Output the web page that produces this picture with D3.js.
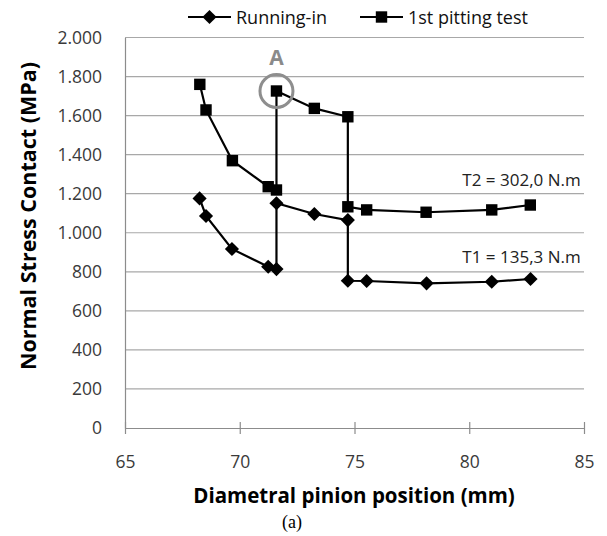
<!DOCTYPE html>
<html>
<head>
<meta charset="utf-8">
<script src="https://cdn.jsdelivr.net/npm/d3@7"></script>
<style>
  body { margin: 0; background: #fff; }
  svg { display: block; }
</style>
</head>
<body>
<div id="chart"></div>
<script>
// pinion position (mm) and contact stress (MPa)
const runX = [68.25, 68.53, 69.66, 71.24, 71.6, 71.6, 73.25, 74.71, 74.71, 75.53, 78.14, 80.98, 82.67];
const runY = [1176, 1086, 917, 826, 814, 1151, 1096, 1065, 754, 753, 741, 749, 763];
const pitX = [68.26, 68.53, 69.68, 71.24, 71.6, 71.6, 73.25, 74.71, 74.71, 75.53, 78.12, 80.98, 82.66];
const pitY = [1760, 1629, 1369, 1236, 1219, 1726, 1637, 1594, 1133, 1117, 1105, 1117, 1142];

const seriesNames = ["Running-in", "1st pitting test"];
const xTicks = [65, 70, 75, 80, 85];
const yTicks = [0, 200, 400, 600, 800, 1000, 1200, 1400, 1600, 1800, 2000];
const yTickLabels = ["0", "200", "400", "600", "800", "1.000", "1.200", "1.400", "1.600", "1.800", "2.000"];

const width = 607, height = 536;
const margin = { left: 125, right: 23, top: 37.5, bottom: 108 };

const svg = d3.select("#chart").append("svg")
    .attr("width", width)
    .attr("height", height);

const x = d3.scaleLinear()
    .domain([65, 85])
    .range([margin.left, width - margin.right]);
const y = d3.scaleLinear()
    .domain([0, 2000])
    .range([height - margin.bottom, margin.top]);

const font = "'Open Sans', sans-serif";

// gridlines
svg.append("g")
    .selectAll("line")
    .data(yTicks.filter(d => d > 0))
    .join("line")
    .attr("x1", x(65)).attr("x2", x(85))
    .attr("y1", d => y(d)).attr("y2", d => y(d))
    .attr("stroke", "#a8a8a8")
    .attr("stroke-width", 1.2);

// y axis (line only, labels on the left)
const yAxis = svg.append("g")
    .attr("transform", `translate(${x(65)},0)`)
    .call(d3.axisLeft(y).tickValues(yTicks).tickSize(0).tickPadding(23)
        .tickFormat((d, i) => yTickLabels[i]));
yAxis.select(".domain").attr("stroke", "#8c8c8c").attr("stroke-width", 1.2);
yAxis.selectAll("text")
    .attr("font-family", font)
    .attr("font-size", 17.5)
    .attr("fill", "#3a3a3a");

// x axis with cross tick marks
const xAxis = svg.append("g")
    .attr("transform", `translate(0,${y(0)})`)
    .call(d3.axisBottom(x).tickValues(xTicks).tickSize(6).tickPadding(22).tickSizeOuter(0));
xAxis.select(".domain").attr("stroke", "#8c8c8c").attr("stroke-width", 1.2);
xAxis.selectAll(".tick line")
    .attr("y1", -6)
    .attr("stroke", "#8c8c8c")
    .attr("stroke-width", 1.2);
xAxis.selectAll("text")
    .attr("font-family", font)
    .attr("font-size", 17.5)
    .attr("fill", "#3a3a3a");

// series
const line = d3.line()
    .x(d => x(d[0]))
    .y(d => y(d[1]));

const runData = runX.map((v, i) => [v, runY[i]]);
const pitData = pitX.map((v, i) => [v, pitY[i]]);

[runData, pitData].forEach(ser => {
    svg.append("path")
        .datum(ser)
        .attr("fill", "none")
        .attr("stroke", "#000")
        .attr("stroke-width", 2.2)
        .attr("d", line);
});

const diamond = d3.symbol(d3.symbolSquare, 100);
const square = d3.symbol(d3.symbolSquare, 130);

svg.append("g")
    .selectAll("path")
    .data(runData)
    .join("path")
    .attr("d", diamond)
    .attr("transform", d => `translate(${x(d[0])},${y(d[1])}) rotate(45)`)
    .attr("fill", "#000");

svg.append("g")
    .selectAll("path")
    .data(pitData)
    .join("path")
    .attr("d", square)
    .attr("transform", d => `translate(${x(d[0])},${y(d[1])})`)
    .attr("fill", "#000");

// point A highlight
const ax = x(pitX[5]), ay = y(pitY[5]);
svg.append("circle")
    .attr("cx", ax)
    .attr("cy", ay)
    .attr("r", 16.5)
    .attr("fill", "none")
    .attr("stroke", "#8e8e8e")
    .attr("stroke-width", 3);
svg.append("text")
    .attr("x", ax)
    .attr("y", ay - 26)
    .attr("text-anchor", "middle")
    .attr("font-family", font)
    .attr("font-weight", 700)
    .attr("font-size", 21)
    .attr("fill", "#8a8a8a")
    .text("A");

// torque labels
svg.append("text")
    .attr("x", x(79.7))
    .attr("y", y(1239))
    .attr("font-family", font)
    .attr("font-size", 17)
    .attr("fill", "#222")
    .text("T2 = 302,0 N.m");
svg.append("text")
    .attr("x", x(79.7))
    .attr("y", y(845))
    .attr("font-family", font)
    .attr("font-size", 17)
    .attr("fill", "#222")
    .text("T1 = 135,3 N.m");

// legend
const legend = svg.append("g");
const legendItems = [
    { name: seriesNames[0], x0: 188, sym: diamond, rot: 45 },
    { name: seriesNames[1], x0: 360, sym: square, rot: 0 }
];
legendItems.forEach(it => {
    legend.append("line")
        .attr("x1", it.x0).attr("x2", it.x0 + 43)
        .attr("y1", 17).attr("y2", 17)
        .attr("stroke", "#000")
        .attr("stroke-width", 2.2);
    legend.append("path")
        .attr("d", it.sym)
        .attr("transform", `translate(${it.x0 + 21.5},17) rotate(${it.rot})`)
        .attr("fill", "#000");
    legend.append("text")
        .attr("x", it.x0 + 48)
        .attr("y", 24)
        .attr("font-family", font)
        .attr("font-size", 18)
        .attr("fill", "#111")
        .text(it.name);
});

// axis titles
svg.append("text")
    .attr("transform", "translate(36,216) rotate(-90)")
    .attr("text-anchor", "middle")
    .attr("font-family", font)
    .attr("font-weight", 700)
    .attr("font-size", 21.5)
    .attr("fill", "#000")
    .text("Normal Stress Contact (MPa)");

svg.append("text")
    .attr("x", 354)
    .attr("y", 503)
    .attr("text-anchor", "middle")
    .attr("font-family", font)
    .attr("font-weight", 700)
    .attr("font-size", 20.5)
    .attr("fill", "#000")
    .text("Diametral pinion position (mm)");

svg.append("text")
    .attr("x", 292)
    .attr("y", 528)
    .attr("text-anchor", "middle")
    .attr("font-family", "'Liberation Serif', serif")
    .attr("font-size", 18)
    .attr("fill", "#000")
    .text("(a)");
</script>
</body>
</html>
